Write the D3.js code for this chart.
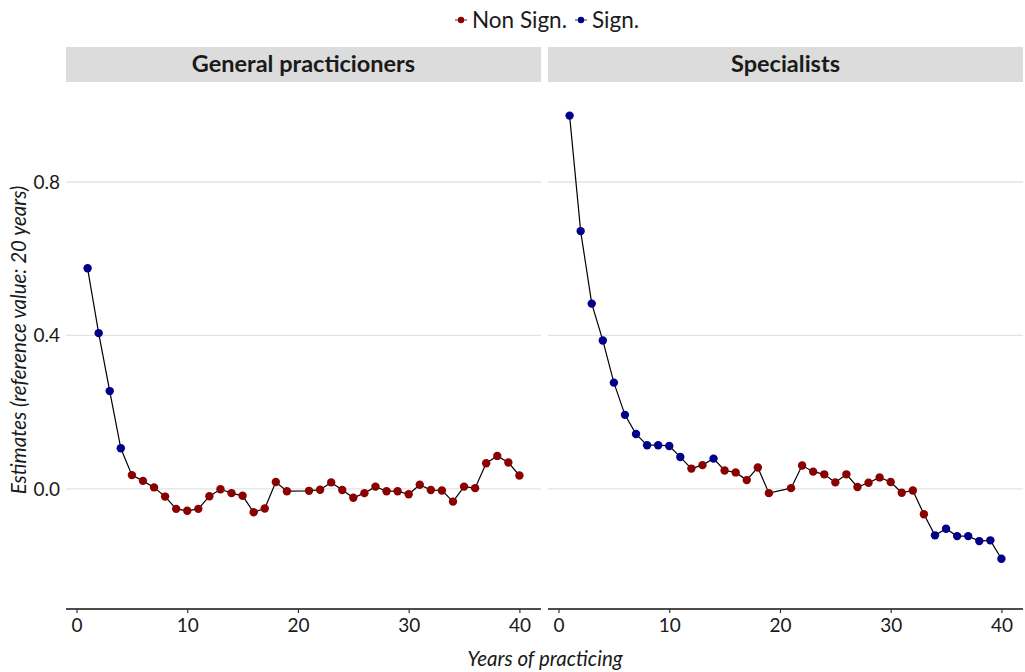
<!DOCTYPE html>
<html>
<head>
<meta charset="utf-8">
<script src="https://cdn.jsdelivr.net/npm/d3@7"></script>
<style>
  body { margin: 0; background: #fff; }
  text { font-family: Lato, "Open Sans", sans-serif; }
</style>
</head>
<body>
<svg id="chart"></svg>
<script>
// years 1..40, 20 is the reference (no point)
var years = [1,2,3,4,5,6,7,8,9,10,11,12,13,14,15,16,17,18,19,21,22,23,24,25,26,27,28,29,30,31,32,33,34,35,36,37,38,39,40];

var gpValues = [0.575,0.406,0.255,0.106,0.036,0.021,0.004,-0.020,-0.052,-0.057,-0.052,-0.019,-0.001,-0.011,-0.018,-0.061,-0.051,0.018,-0.006,
  -0.005,-0.002,0.017,-0.003,-0.023,-0.011,0.006,-0.006,-0.006,-0.014,0.011,-0.003,-0.004,-0.033,0.006,0.002,0.067,0.086,0.069,0.035];
var gpSign = [1,1,1,1,0,0,0,0,0,0,0,0,0,0,0,0,0,0,0,
  0,0,0,0,0,0,0,0,0,0,0,0,0,0,0,0,0,0,0,0];

var specValues = [0.973,0.672,0.483,0.387,0.277,0.193,0.143,0.114,0.114,0.112,0.083,0.053,0.062,0.079,0.048,0.043,0.023,0.056,-0.011,
  0.002,0.061,0.045,0.038,0.017,0.038,0.005,0.016,0.030,0.018,-0.010,-0.004,-0.066,-0.121,-0.104,-0.123,-0.123,-0.136,-0.134,-0.182];
var specSign = [1,1,1,1,1,1,1,1,1,1,1,0,0,1,0,0,0,0,0,
  0,0,0,0,0,0,0,0,0,0,0,0,0,1,1,1,1,1,1,1];

var panelNames = ["General practicioners", "Specialists"];
var legendLabels = ["Non Sign.", "Sign."];
var xTicks = [0,10,20,30,40];
var yTicks = [0.0,0.4,0.8];

var width = 1025, height = 672;
var colors = {0: "#8b0000", 1: "#00008b"};

var svg = d3.select("#chart").attr("width", width).attr("height", height);

var panelTop = 88, panelBottom = 609;
var panels = [
  {name: panelNames[0], x0: 66, x1: 541, values: gpValues, sign: gpSign},
  {name: panelNames[1], x0: 548, x1: 1023, values: specValues, sign: specSign}
];

var y = d3.scaleLinear().domain([-0.313, 1.045]).range([panelBottom, panelTop]);

// y tick labels (left panel only)
svg.append("g").selectAll("text").data(yTicks).enter().append("text")
  .attr("x", 60).attr("y", function(d){ return y(d); })
  .attr("dy", "0.35em").attr("text-anchor", "end")
  .attr("font-size", 19).attr("fill", "#1a1a1a")
  .text(function(d){ return d3.format(".1f")(d); });

panels.forEach(function(p){
  var x = d3.scaleLinear().domain([-0.95, 41.95]).range([p.x0, p.x1]);
  var g = svg.append("g");

  // strip
  g.append("rect").attr("x", p.x0).attr("y", 47).attr("width", p.x1 - p.x0).attr("height", 35)
    .attr("fill", "#dcdcdc");
  g.append("text").attr("x", (p.x0 + p.x1) / 2).attr("y", 64).attr("dy", "0.35em")
    .attr("text-anchor", "middle").attr("font-size", 23.5).attr("font-weight", "bold")
    .attr("fill", "#1a1a1a").text(p.name);

  // grid
  g.append("g").selectAll("line").data(yTicks).enter().append("line")
    .attr("x1", p.x0).attr("x2", p.x1)
    .attr("y1", function(d){ return y(d); }).attr("y2", function(d){ return y(d); })
    .attr("stroke", "#e3e3e3").attr("stroke-width", 1.3);

  // x axis
  var ax = g.append("g").attr("transform", "translate(0," + panelBottom + ")")
    .call(d3.axisBottom(x).tickValues(xTicks).tickSize(4).tickPadding(6).tickSizeOuter(0));
  ax.select(".domain").attr("d", "M" + p.x0 + ",0H" + p.x1).attr("stroke", "#4d4d4d").attr("stroke-width", 2);
  ax.selectAll(".tick line").attr("stroke", "#333").attr("stroke-width", 1.2);
  ax.selectAll(".tick text").attr("font-size", 19).attr("fill", "#1a1a1a")
    .attr("font-family", "Lato, sans-serif");

  var pts = years.map(function(yr, i){ return {x: yr, y: p.values[i], s: p.sign[i]}; });

  g.append("path").datum(pts)
    .attr("fill", "none").attr("stroke", "#000").attr("stroke-width", 1.2)
    .attr("d", d3.line().x(function(d){ return x(d.x); }).y(function(d){ return y(d.y); }));

  g.append("g").selectAll("circle").data(pts).enter().append("circle")
    .attr("cx", function(d){ return x(d.x); }).attr("cy", function(d){ return y(d.y); })
    .attr("r", 4.2).attr("fill", function(d){ return colors[d.s]; });
});

// axis titles
svg.append("text").attr("x", 545).attr("y", 659).attr("dy", "0.35em")
  .attr("text-anchor", "middle").attr("font-size", 20.5).attr("font-style", "italic")
  .attr("fill", "#1a1a1a").text("Years of practicing");
svg.append("text").attr("transform", "translate(19,340) rotate(-90)").attr("dy", "0.35em")
  .attr("text-anchor", "middle").attr("font-size", 20.5).attr("font-style", "italic")
  .attr("fill", "#1a1a1a").text("Estimates (reference value: 20 years)");

// legend
var leg = svg.append("g");
var lx = 455;
legendLabels.forEach(function(lab, i){
  var c = colors[i];
  var item = leg.append("g");
  item.append("line").attr("x1", lx).attr("x2", lx + 12).attr("y1", 20).attr("y2", 20)
    .attr("stroke", "#000").attr("stroke-width", 0.8);
  item.append("circle").attr("cx", lx + 6).attr("cy", 20).attr("r", 3.2).attr("fill", c);
  var t = item.append("text").attr("x", lx + 17).attr("y", 20).attr("dy", "0.35em")
    .attr("font-size", 22.5).attr("fill", "#1a1a1a").text(lab);
  lx += 17 + t.node().getComputedTextLength() + 8;
});
</script>
</body>
</html>
